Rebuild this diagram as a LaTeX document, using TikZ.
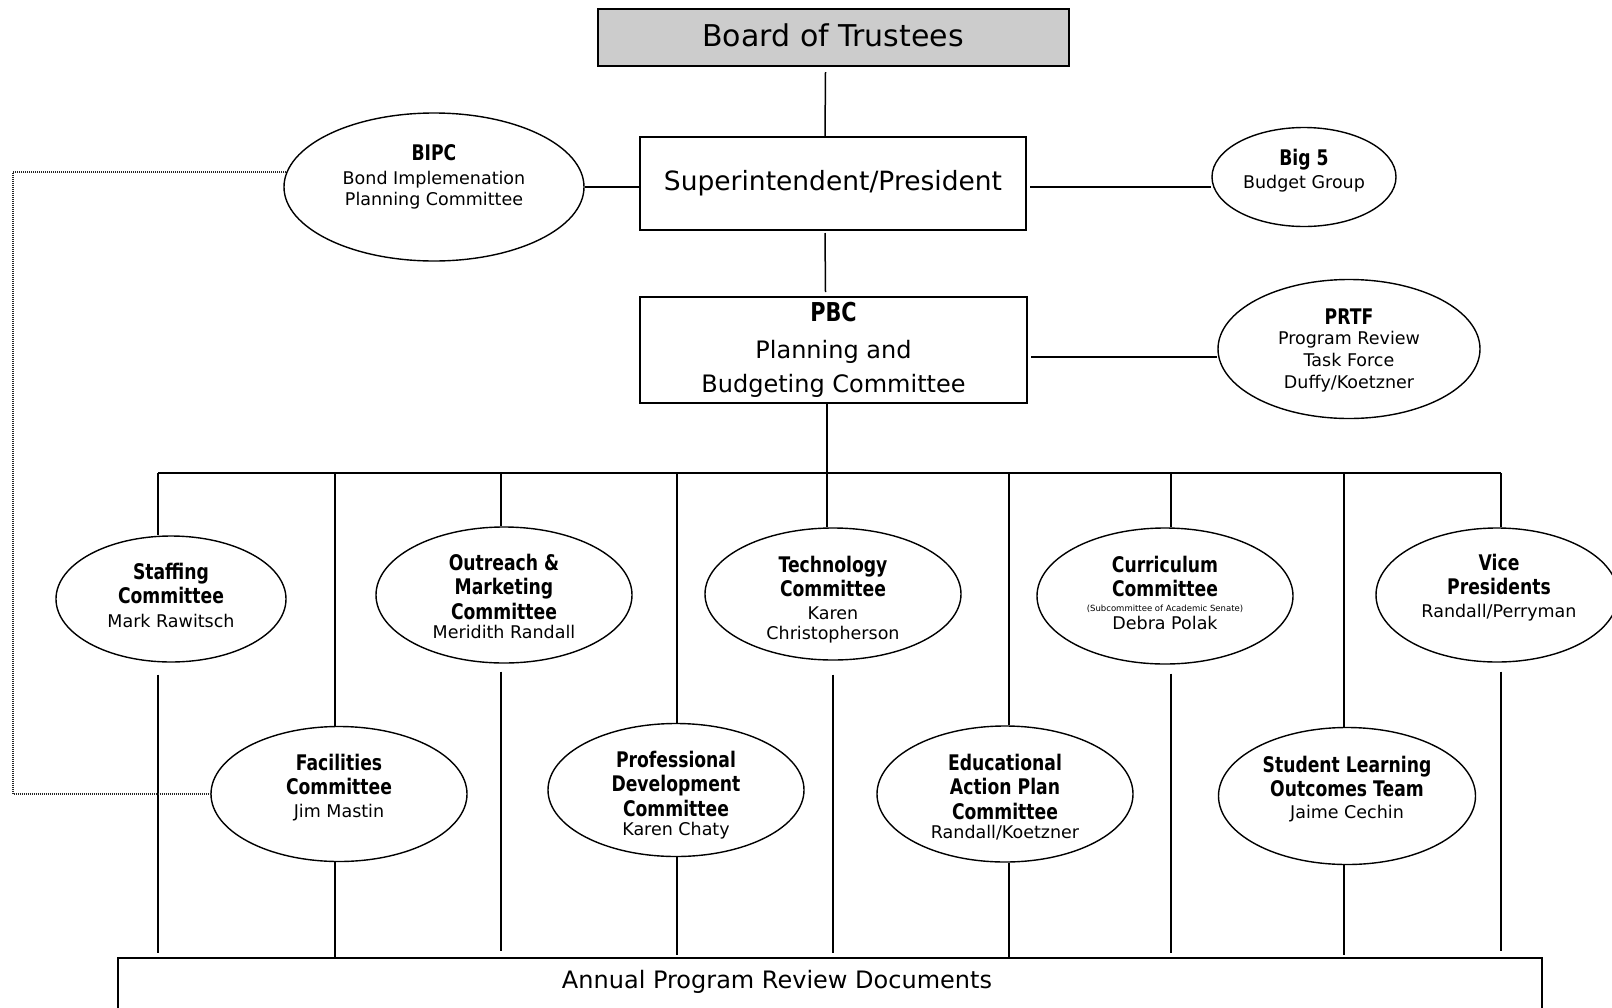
\documentclass[tikz,border=0pt]{standalone}
\usepackage{fontspec}
\setmainfont{DejaVu Sans}
\newfontfamily\titlef{DejaVu Sans}[FakeStretch=0.8]
\usetikzlibrary{shapes.geometric,calc}
\definecolor{boardgray}{HTML}{CCCCCC}
\newcommand\cmtitle[1]{{\titlef\bfseries\fontsize{21.5}{24.5}\selectfont #1}}
\newcommand\cmname[1]{{\fontsize{17.5}{21.5}\selectfont #1}}
\begin{document}
\begin{tikzpicture}[x=1pt,y=-1pt,
  box/.style={draw, line width=2pt, inner sep=0pt, align=center},
  comm/.style={ellipse, draw, line width=1.4pt, inner sep=0pt},
  ctext/.style={anchor=north, align=center, inner sep=0pt, font={\fontsize{17.5}{24.5}\selectfont}},
  link/.style={line width=1.5pt},
  dotline/.style={line width=1.2pt, dash pattern=on 1pt off 1pt, black!85}]
\useasboundingbox (0,0) rectangle (1612,1007);

% boxes
\node[box, fill=boardgray, minimum width=471pt, minimum height=57pt] (bot) at (833.5,37.5) {};
\node[inner sep=0pt, font={\fontsize{30}{34}\selectfont}] (bott) at (833,35) {Board of Trustees};
\node[box, minimum width=386pt, minimum height=93pt, font={\fontsize{26.5}{30}\selectfont}] (super) at (833,183.5) {Superintendent/President};
\node[box, minimum width=387pt, minimum height=106pt, font={\fontsize{24}{34}\selectfont}] (pbc) at (833.5,350) {{\titlef\bfseries\fontsize{26}{34}\selectfont PBC}\\[3pt]Planning and\\Budgeting Committee};
\node[box, minimum width=1424pt, minimum height=57pt] (apr) at (830,986.5) {};
\node[inner sep=0pt, font={\fontsize{24}{28}\selectfont}] (aprtext) at (777,982) {Annual Program Review Documents};

% ellipses
\node[comm, minimum width=300pt, minimum height=148pt] (bipc) at (434,187) {};
\node[comm, minimum width=184pt, minimum height=99pt] (big5) at (1304,177) {};
\node[comm, minimum width=262pt, minimum height=139pt] (prtf) at (1349,349) {};
\node[comm, minimum width=230pt, minimum height=126pt] (staff) at (171,599) {};
\node[comm, minimum width=256pt, minimum height=136pt] (outr) at (504,595) {};
\node[comm, minimum width=256pt, minimum height=132pt] (tech) at (833,594) {};
\node[comm, minimum width=256pt, minimum height=136pt] (curr) at (1165,596) {};
\node[comm, minimum width=242pt, minimum height=134pt] (vice) at (1497,595) {};
\node[comm, minimum width=256pt, minimum height=135pt] (fac) at (339,794) {};
\node[comm, minimum width=256pt, minimum height=133pt] (prof) at (676,790) {};
\node[comm, minimum width=256pt, minimum height=136pt] (educ) at (1005,794) {};
\node[comm, minimum width=257pt, minimum height=137pt] (slo) at (1347,796) {};

% ellipse texts
\node[ctext] (bipct) at (434,144.5) {\cmtitle{BIPC}\\[-1pt]\cmname{Bond Implemenation}\\[-3pt]\cmname{Planning Committee}};
\node[ctext] (big5t) at (1304,148.5) {\cmtitle{Big 5}\\[-1pt]\cmname{Budget Group}};
\node[ctext] (prtft) at (1349,308.5) {\cmtitle{PRTF}\\[-4pt]\cmname{Program Review}\\[-3pt]\cmname{Task Force}\\[-2.5pt]\cmname{Duffy/Koetzner}};
\node[ctext] (stafft) at (171,562.5) {\cmtitle{Staffing}\\\cmtitle{Committee}\\[-1pt]\cmname{Mark Rawitsch}};
\node[ctext] (outrt) at (504,553.5) {\cmtitle{Outreach \&}\\\cmtitle{Marketing}\\\cmtitle{Committee}\\[-5pt]\cmname{Meridith Randall}};
\node[ctext] (techt) at (833,555.5) {\cmtitle{Technology}\\\cmtitle{Committee}\\[-2pt]\cmname{Karen}\\[-4.5pt]\cmname{Christopherson}};
\node[ctext] (currt) at (1165,555.5) {\cmtitle{Curriculum}\\\cmtitle{Committee}\\[-10pt]{\fontsize{8.5}{10}\selectfont (Subcommittee of Academic Senate)}\\[-6.5pt]\cmname{Debra Polak}};
\node[ctext] (vicet) at (1499,553.5) {\cmtitle{Vice}\\\cmtitle{Presidents}\\[-2pt]\cmname{Randall/Perryman}};
\node[ctext] (fact) at (339,753.5) {\cmtitle{Facilities}\\\cmtitle{Committee}\\[-2pt]\cmname{Jim Mastin}};
\node[ctext] (proft) at (676,750.5) {\cmtitle{Professional}\\\cmtitle{Development}\\\cmtitle{Committee}\\[-5pt]\cmname{Karen Chaty}};
\node[ctext] (educt) at (1005,753.5) {\cmtitle{Educational}\\\cmtitle{Action Plan}\\\cmtitle{Committee}\\[-5pt]\cmname{Randall/Koetzner}};
\node[ctext] (slot) at (1347,755.5) {\cmtitle{Student Learning}\\\cmtitle{Outcomes Team}\\[-3pt]\cmname{Jaime Cechin}};

% bus coordinates
\coordinate (b1) at (158,473);
\coordinate (b2) at (335,473);
\coordinate (b3) at (501,473);
\coordinate (b4) at (677,473);
\coordinate (b5) at (827,473);
\coordinate (b6) at (1009,473);
\coordinate (b7) at (1171,473);
\coordinate (b8) at (1344,473);
\coordinate (b9) at (1501,473);
\coordinate (dcorner) at (13,794);

% upper connectors
\draw[link] ($(bot.south)+(-8,5)$) -- ($(super.north)+(-8,0)$);
\draw[link] ($(super.south)+(-8,2)$) -- ($(pbc.north)+(-8,-4)$);
\draw[link] (bipc.east) -- (bipc.east -| super.west);
\draw[link] ($(super.east)+(3,3.5)$) -- ($(super.east -| big5.west)+(0,3.5)$);
\draw[link] ($(pbc.east)+(3,7)$) -- ($(pbc.east -| prtf.west)+(0,7)$);
\draw[link] (pbc.south -| b5) -- (b5);

% bus and drops
\draw[link] (b1) -- (b9);
\draw[link] (b1) -- (b1 |- staff.north);
\draw[link] (b3) -- (b3 |- outr.north);
\draw[link] (b5) -- (b5 |- tech.north);
\draw[link] (b7) -- (b7 |- curr.north);
\draw[link] (b9) -- (b9 |- vice.north);
\draw[link] (b2) -- (b2 |- fac.north);
\draw[link] (b4) -- (b4 |- prof.north);
\draw[link] (b6) -- (b6 |- educ.north);
\draw[link] (b8) -- (b8 |- slo.north);

% lines down to the review documents
\draw[link] ($(b1 |- staff.south)+(0,12)$) -- ($(b1 |- apr.north)+(0,-4)$);
\draw[link] ($(b3 |- outr.south)+(0,8)$) -- ($(b3 |- apr.north)+(0,-6)$);
\draw[link] ($(tech.south)+(0,14)$) -- ($(tech.south |- apr.north)+(0,-4)$);
\draw[link] ($(b7 |- curr.south)+(0,9)$) -- ($(b7 |- apr.north)+(0,-4)$);
\draw[link] ($(b9 |- vice.south)+(0,9)$) -- ($(b9 |- apr.north)+(0,-6)$);
\draw[link] (b2 |- fac.south) -- (b2 |- apr.north);
\draw[link] (b4 |- prof.south) -- ($(b4 |- apr.north)+(0,-2)$);
\draw[link] (b6 |- educ.south) -- (b6 |- apr.north);
\draw[link] (b8 |- slo.south) -- ($(b8 |- apr.north)+(0,-2)$);

% dotted link BIPC -> Facilities
\draw[dotline] ($(bipc.west)+(3,-15)$) -| (dcorner) |- (fac.west);
\end{tikzpicture}
\end{document}
